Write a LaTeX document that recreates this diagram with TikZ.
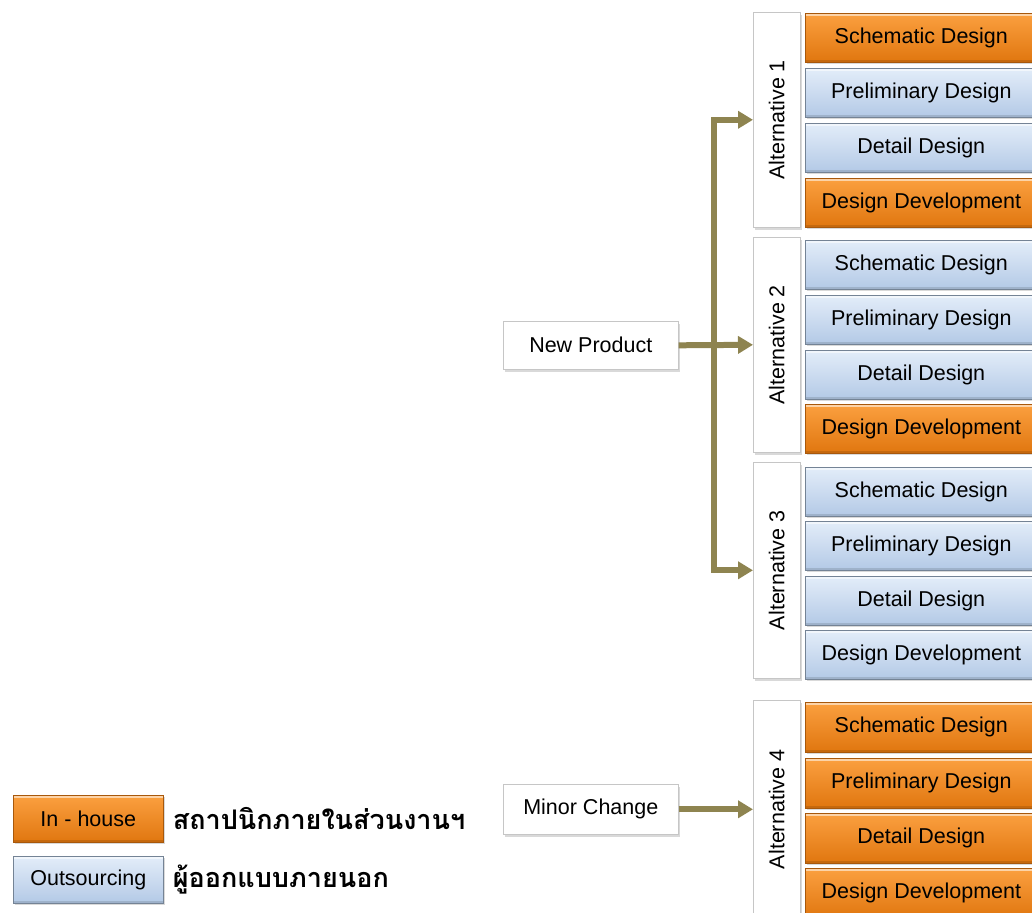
\documentclass[tikz,border=0pt]{standalone}
\usepackage{fontspec}
\setmainfont{Liberation Sans}
\newfontfamily\thaifont[Script=Thai]{Loma}
\usetikzlibrary{shadows,arrows.meta}
\definecolor{orangeT}{HTML}{FBA040}
\definecolor{orangeB}{HTML}{E0760F}
\definecolor{blueT}{HTML}{E3EDF9}
\definecolor{blueB}{HTML}{B3C9E6}
\definecolor{arrowc}{HTML}{8E8450}
\begin{document}
\begin{tikzpicture}[x=1pt,y=-1pt,
  base/.style={rectangle, inner sep=0pt, anchor=north west, font=\fontsize{21.5}{21.5}\selectfont},
  bevel/.style={path picture={
    \draw[white, opacity=0.55, line width=2.5pt]
      ([yshift=-1.5pt]path picture bounding box.north west) -- ([yshift=-1.5pt]path picture bounding box.north east);
    \draw[black, opacity=0.12, line width=2pt]
      ([yshift=1pt]path picture bounding box.south west) -- ([yshift=1pt]path picture bounding box.south east);}},
  inh/.style={base, bevel, top color=orangeT, bottom color=orangeB, draw=orangeB!75!black, line width=0.6pt,
    drop shadow={shadow xshift=1.5pt, shadow yshift=-2pt, opacity=0.3}},
  outs/.style={base, bevel, top color=blueT, bottom color=blueB, draw=blueB!65!black, line width=0.6pt,
    drop shadow={shadow xshift=1.5pt, shadow yshift=-2pt, opacity=0.3}},
  wbox/.style={base, fill=white, draw=gray!45, line width=0.6pt,
    drop shadow={shadow xshift=2pt, shadow yshift=-3pt, opacity=0.3}},
  altlbl/.style={rotate=90, font=\fontsize{21.5}{21.5}\selectfont},
  conn/.style={draw=arrowc, line width=6pt, -{Triangle[length=15pt,width=17pt]}}
]
\useasboundingbox (0,0) rectangle (1032,912);
\clip (0,0) rectangle (1032,912);

% Alternative label boxes
\node[wbox, minimum width=47pt, minimum height=215pt] (alt1) at (753,12) {};
\node[wbox, minimum width=47pt, minimum height=215pt] (alt2) at (753,237) {};
\node[wbox, minimum width=47pt, minimum height=216pt] (alt3) at (753,462) {};
\node[wbox, minimum width=47pt, minimum height=218pt] (alt4) at (753,700) {};
\node[altlbl] (t1) at (alt1.center) {Alternative 1};
\node[altlbl] (t2) at (alt2.center) {Alternative 2};
\node[altlbl] (t3) at (alt3.center) {Alternative 3};
\node[altlbl] (t4) at (alt4.center) {Alternative 4};

% Alternative 1
\node[inh,  minimum width=232pt, minimum height=49pt] (a1s) at (805,13)  {Schematic Design};
\node[outs, minimum width=232pt, minimum height=49pt] (a1p) at (805,68)  {Preliminary Design};
\node[outs, minimum width=232pt, minimum height=49pt] (a1d) at (805,123) {Detail Design};
\node[inh,  minimum width=232pt, minimum height=49pt] (a1v) at (805,178) {Design Development};
% Alternative 2
\node[outs, minimum width=232pt, minimum height=49pt] (a2s) at (805,240) {Schematic Design};
\node[outs, minimum width=232pt, minimum height=49pt] (a2p) at (805,295) {Preliminary Design};
\node[outs, minimum width=232pt, minimum height=49pt] (a2d) at (805,350) {Detail Design};
\node[inh,  minimum width=232pt, minimum height=49pt] (a2v) at (805,404) {Design Development};
% Alternative 3
\node[outs, minimum width=232pt, minimum height=49pt] (a3s) at (805,467) {Schematic Design};
\node[outs, minimum width=232pt, minimum height=49pt] (a3p) at (805,521) {Preliminary Design};
\node[outs, minimum width=232pt, minimum height=49pt] (a3d) at (805,576) {Detail Design};
\node[outs, minimum width=232pt, minimum height=49pt] (a3v) at (805,630) {Design Development};
% Alternative 4
\node[inh, minimum width=232pt, minimum height=50pt] (a4s) at (805,702) {Schematic Design};
\node[inh, minimum width=232pt, minimum height=50pt] (a4p) at (805,758) {Preliminary Design};
\node[inh, minimum width=232pt, minimum height=50pt] (a4d) at (805,813) {Detail Design};
\node[inh, minimum width=232pt, minimum height=50pt] (a4v) at (805,868) {Design Development};

% Sources
\node[wbox, minimum width=175pt, minimum height=48pt] (np) at (503,321) {New Product};
\node[wbox, minimum width=175pt, minimum height=50pt] (mc) at (503,784) {Minor Change};

% Connectors
\coordinate (tr) at (714,346);
\draw[conn] (np.east) -- (alt2.west);
\draw[conn] (tr) |- (alt1.west);
\draw[conn] (tr) |- (alt3.west);
\draw[conn] (mc.east) -- (alt4.west);

% Legend
\node[inh,  minimum width=150pt, minimum height=47pt] (lin)  at (13,795) {In - house};
\node[outs, minimum width=150pt, minimum height=47pt] (lout) at (13,856) {Outsourcing};
\node[anchor=west, inner sep=0pt, font=\thaifont\bfseries\fontsize{27}{27}\selectfont] (lint) at ([xshift=9pt]lin.east) {สถาปนิกภายในส่วนงานฯ};
\node[anchor=west, inner sep=0pt, font=\thaifont\bfseries\fontsize{27}{27}\selectfont] (loutt) at ([xshift=9pt]lout.east) {ผู้ออกแบบภายนอก};
\end{tikzpicture}
\end{document}
